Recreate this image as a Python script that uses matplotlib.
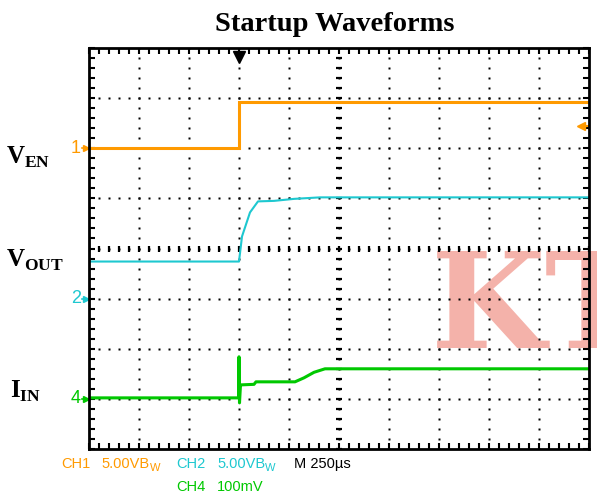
import matplotlib
matplotlib.use('Agg')
import matplotlib.pyplot as plt
from matplotlib import font_manager
import numpy as np

plt.rcParams['mathtext.fontset'] = 'custom'
plt.rcParams['mathtext.bf'] = 'Liberation Serif:bold'
plt.rcParams['mathtext.rm'] = 'Liberation Serif'

# Scope traces, in screen divisions (10 x 8 grid, y=0 at bottom)
en_t = [0, 3.0, 3.0, 10]
en_v = [6.0, 6.0, 6.93, 6.93]

out_t = [0, 3.0, 3.06, 3.22, 3.38, 3.7, 4.1, 4.62, 10]
out_v = [3.74, 3.74, 4.24, 4.72, 4.94, 4.95, 4.99, 5.02, 5.02]

iin_t = [0, 2.99, 3.0, 3.01, 3.03, 3.06, 3.30, 3.34, 4.12, 4.3, 4.5, 4.72, 10]
iin_v = [1.02, 1.02, 1.84, 0.92, 1.28, 1.28, 1.29, 1.34, 1.34, 1.42, 1.53, 1.6, 1.6]

# channel ground markers (division level) and labels
ch_ids = ['1', '2', '4']
ch_ground = [6.0, 3.0, 1.0]
trigger_t = 3.0
trigger_level = 6.44

ORANGE = '#ff9a00'
CYAN = '#1ec8d0'
GREEN = '#00c800'
ch_colors = [ORANGE, CYAN, GREEN]

W, H = 597, 495
def fx(px):
    return px / W
def fy(py):
    return 1 - py / H

names = {f.name for f in font_manager.fontManager.ttflist}
if 'Liberation Sans Narrow' in names:
    scope_font, scope_size = 'Liberation Sans Narrow', 12.5
else:
    scope_font, scope_size = 'Liberation Sans', 10.5

fig = plt.figure(figsize=(W / 100, H / 100), dpi=100)
ax = fig.add_axes([fx(89), fy(449), (589 - 89) / W, (449 - 48) / H])
ax.patch.set_alpha(0)
ax.set_xlim(0, 10)
ax.set_ylim(0, 8)

# watermark behind the grid
fig.text(fx(431), fy(348), 'KT', fontsize=95, family='DejaVu Serif', fontweight='bold',
         color='#f4b2aa', va='baseline', zorder=-1)

# dotted graticule
steps = np.arange(0, 10.01, 0.2)
vsteps = np.arange(0, 8.01, 0.2)
for gx in range(1, 10):
    ax.plot(np.full_like(vsteps, gx), vsteps, ls='none', marker='s', ms=1.5, mec='none', color='k')
for gy in range(1, 8):
    ax.plot(steps, np.full_like(steps, gy), ls='none', marker='s', ms=1.5, mec='none', color='k')
# centre cross-hair ticks
ax.plot(np.full_like(vsteps, 5), vsteps, ls='none', marker='_', ms=5, mew=1.6, color='k')
ax.plot(steps, np.full_like(steps, 4), ls='none', marker='|', ms=5, mew=1.6, color='k')

ax.set_xticks([])
ax.set_yticks([])
ax.set_xticks(steps, minor=True)
ax.set_yticks(vsteps, minor=True)
ax.tick_params(which='minor', direction='in', length=4, width=1.5, top=True, right=True,
               bottom=True, left=True, labelbottom=False, labelleft=False)
for s in ax.spines.values():
    s.set_linewidth(2)

# traces
ax.plot(en_t, en_v, color=ORANGE, lw=2.2, solid_joinstyle='miter')
ax.plot(out_t, out_v, color=CYAN, lw=1.5)
ax.plot(iin_t, iin_v, color=GREEN, lw=2.2)

# ground markers on the left edge
for cid, lvl, c in zip(ch_ids, ch_ground, ch_colors):
    ax.plot([-0.06], [lvl], marker='>', ms=5, color=c, clip_on=False)
    ax.plot([-0.14, -0.06], [lvl, lvl], color=c, lw=1.2, clip_on=False)
    ax.text(-0.16, lvl, cid, color=c, ha='right', va='center', family=scope_font,
            fontsize=13)

# trigger markers
ax.plot([trigger_t], [7.82], marker='v', ms=8, color='k', clip_on=False)
ax.plot([9.84], [trigger_level], marker='<', ms=6, color=ORANGE, clip_on=False)
ax.plot([9.84, 10], [trigger_level, trigger_level], color=ORANGE, lw=1.5)

# title and side labels
fig.text(fx(335), fy(31), 'Startup Waveforms', ha='center', va='baseline',
         family='Liberation Serif', fontweight='bold', fontsize=20.5)
fig.text(fx(6), fy(164), r'$\mathbf{V}_{\mathbf{EN}}$', fontsize=18, va='baseline')
fig.text(fx(6), fy(267), r'$\mathbf{V}_{\mathbf{OUT}}$', fontsize=18, va='baseline')
fig.text(fx(10), fy(398), r'$\mathbf{I}_{\mathbf{IN}}$', fontsize=18, va='baseline')

# scope status line
def status(x, y, s, c, size=scope_size):
    fig.text(fx(x), fy(y), s, color=c, family=scope_font, fontsize=size, va='baseline')

status(61, 468, 'CH1', ORANGE)
status(101, 468, '5.00VB', ORANGE)
status(150, 471, 'W', ORANGE, 8)
status(176, 468, 'CH2', CYAN)
status(217, 468, '5.00VB', CYAN)
status(265, 471, 'W', CYAN, 8)
status(294, 468, 'M 250\u00b5s', 'k')
status(176, 491, 'CH4', GREEN)
status(217, 491, '100mV', GREEN)

fig.savefig('out.png', dpi=100)
